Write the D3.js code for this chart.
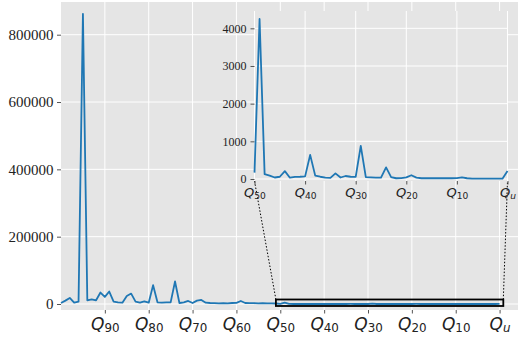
<!DOCTYPE html>
<html>
<head>
<meta charset="utf-8">
<script src="https://cdn.jsdelivr.net/npm/d3@7"></script>
<style>
  body { margin: 0; background: #fff; }
  text { fill: #222; }
</style>
</head>
<body>
<svg id="chart" width="518" height="339"></svg>
<script>
// Quantile levels, from Q100 on the left down to Q0 (labelled Q_u) on the right
const quantileLevels = d3.range(100, -1, -1);

// Counts per quantile level (same order as quantileLevels)
const counts = [
  3000, 10000, 18000, 4000, 7000, 862000, 11000, 14000, 11000, 34000,   // 100..91
  21000, 37000, 7000, 5000, 4000, 24000, 31000, 7000, 4000, 8000,       // 90..81
  4000, 56000, 5000, 4000, 5000, 5000, 67000, 3000, 5000, 9000,         // 80..71
  3000, 10000, 12000, 4000, 3000, 2500, 2000, 2500, 2000, 3000,         // 70..61
  3500, 9000, 3000, 2500, 2500, 2000, 2500, 2000, 2000, 1500,           // 60..51
  170, 4250, 130, 90, 40, 60, 210, 35, 55, 60,                          // 50..41
  70, 640, 90, 60, 35, 30, 150, 40, 80, 60,                             // 40..31
  55, 880, 50, 45, 35, 35, 310, 50, 20, 25,                             // 30..21
  45, 100, 35, 20, 20, 25, 20, 25, 20, 20,                              // 20..11
  25, 45, 20, 12, 10, 10, 10, 10, 10, 10,                               // 10..1
  210                                                                   // 0
];

// Axis ticks
const mainTickLevels = [90, 80, 70, 60, 50, 40, 30, 20, 10, 0];
const mainTickSubs = ["90", "80", "70", "60", "50", "40", "30", "20", "10", "u"];
const mainTickValues = [0, 200000, 400000, 600000, 800000];
const insetTickLevels = [50, 40, 30, 20, 10, 0];
const insetTickSubs = ["50", "40", "30", "20", "10", "u"];
const insetTickValues = [0, 1000, 2000, 3000, 4000];

// Region of the main plot that the inset magnifies
const insetLevelRange = [50, 0];
const zoomWindowX = [51, -0.85];
const zoomWindowY = [-5900, 13400];

const data = quantileLevels.map((q, i) => ({ q, v: counts[i] }));
const insetData = data.filter(d => d.q <= insetLevelRange[0] && d.q >= insetLevelRange[1]);

const svg = d3.select("#chart");
const BG = "#E5E5E5", LINE = "#1f77b4", TICK = "#555";

// ---------- main axes ----------
const M = { left: 61, right: 518, top: 2, bottom: 310 };
const x = d3.scaleLinear().domain([100, -4.2]).range([M.left, M.right]);
const y = d3.scaleLinear().domain([-17800, 897100]).range([M.bottom, M.top]);

svg.append("rect").attr("x", M.left).attr("y", M.top)
  .attr("width", M.right - M.left).attr("height", M.bottom - M.top).attr("fill", BG);

const mainGrid = svg.append("g").attr("stroke", "#fff").attr("stroke-width", 1);
mainGrid.selectAll(".gx").data(mainTickLevels).join("line")
  .attr("x1", d => x(d)).attr("x2", d => x(d)).attr("y1", M.top).attr("y2", M.bottom);
mainGrid.selectAll(".gy").data(mainTickValues).join("line")
  .attr("x1", M.left).attr("x2", M.right).attr("y1", d => y(d)).attr("y2", d => y(d));

function styleAxis(g) {
  g.select(".domain").remove();
  g.selectAll(".tick line").attr("stroke", TICK).attr("stroke-width", 1);
}

// Writes Q with a subscript, the way the quantile labels read
function quantileLabel(sel, subs, size, baseY, subShift) {
  sel.selectAll(".tick text").remove();
  sel.selectAll(".tick").each(function (d, i) {
    const t = d3.select(this).append("text")
      .attr("y", baseY).attr("text-anchor", "middle")
      .attr("font-family", "DejaVu Sans").attr("fill", "#222");
    t.append("tspan").attr("font-style", "italic").attr("font-size", size).text("Q");
    t.append("tspan").attr("font-size", size * 0.7).attr("dy", subShift)
      .attr("font-style", subs[i] === "u" ? "italic" : "normal").text(subs[i]);
  });
}

svg.append("g").attr("transform", `translate(0,${M.bottom})`)
  .call(d3.axisBottom(x).tickValues(mainTickLevels).tickSize(3.5))
  .call(styleAxis)
  .call(g => quantileLabel(g, mainTickSubs, 17, 19.5, 2.8));

svg.append("g").attr("transform", `translate(${M.left},0)`)
  .call(d3.axisLeft(y).tickValues(mainTickValues).tickSize(4).tickPadding(3.5).tickFormat(d3.format("d")))
  .call(styleAxis)
  .call(g => g.selectAll(".tick text").attr("font-family", "Liberation Serif")
    .attr("font-size", 15).attr("fill", "#222"));

const line = d3.line().x(d => x(d.q)).y(d => y(d.v));
svg.append("path").datum(data).attr("d", line)
  .attr("fill", "none").attr("stroke", LINE).attr("stroke-width", 1.8)
  .attr("stroke-linejoin", "round");

// frame around the magnified region
const zx0 = x(zoomWindowX[0]), zx1 = x(zoomWindowX[1]);
const zy0 = y(zoomWindowY[1]), zy1 = y(zoomWindowY[0]);
svg.append("rect").attr("x", zx0).attr("y", zy0)
  .attr("width", zx1 - zx0).attr("height", zy1 - zy0)
  .attr("fill", "none").attr("stroke", "#000").attr("stroke-width", 1.8);

// ---------- inset axes ----------
const I = { left: 254.5, right: 507.5, top: 11, bottom: 181 };
const xi = d3.scaleLinear().domain(insetLevelRange).range([I.left, I.right]);
const yi = d3.scaleLinear().domain([-53, 4460]).range([I.bottom, I.top]);

// connectors from the frame to the inset corners
const conn = svg.append("g").attr("stroke", "#000").attr("stroke-width", 1)
  .attr("stroke-dasharray", "1.5,1.8");
conn.append("line").attr("x1", zx0).attr("y1", zy0).attr("x2", I.left).attr("y2", I.bottom);
conn.append("line").attr("x1", zx1).attr("y1", zy0).attr("x2", I.right).attr("y2", I.bottom);

svg.append("rect").attr("x", I.left).attr("y", I.top)
  .attr("width", I.right - I.left).attr("height", I.bottom - I.top).attr("fill", BG);

const insetGrid = svg.append("g").attr("stroke", "#fff").attr("stroke-width", 1);
insetGrid.selectAll(".gx").data(insetTickLevels).join("line")
  .attr("x1", d => xi(d)).attr("x2", d => xi(d)).attr("y1", I.top).attr("y2", I.bottom);
insetGrid.selectAll(".gy").data(insetTickValues).join("line")
  .attr("x1", I.left).attr("x2", I.right).attr("y1", d => yi(d)).attr("y2", d => yi(d));

svg.append("g").attr("transform", `translate(0,${I.bottom})`)
  .call(d3.axisBottom(xi).tickValues(insetTickLevels).tickSize(3.5))
  .call(styleAxis)
  .call(g => quantileLabel(g, insetTickSubs, 13, 16, 2.2));

svg.append("g").attr("transform", `translate(${I.left},0)`)
  .call(d3.axisLeft(yi).tickValues(insetTickValues).tickSize(4).tickPadding(4).tickFormat(d3.format("d")))
  .call(styleAxis)
  .call(g => g.selectAll(".tick text").attr("font-family", "Liberation Serif")
    .attr("font-size", 12).attr("fill", "#222"));

const lineI = d3.line().x(d => xi(d.q)).y(d => yi(d.v));
svg.append("path").datum(insetData).attr("d", lineI)
  .attr("fill", "none").attr("stroke", LINE).attr("stroke-width", 1.8)
  .attr("stroke-linejoin", "round");
</script>
</body>
</html>
